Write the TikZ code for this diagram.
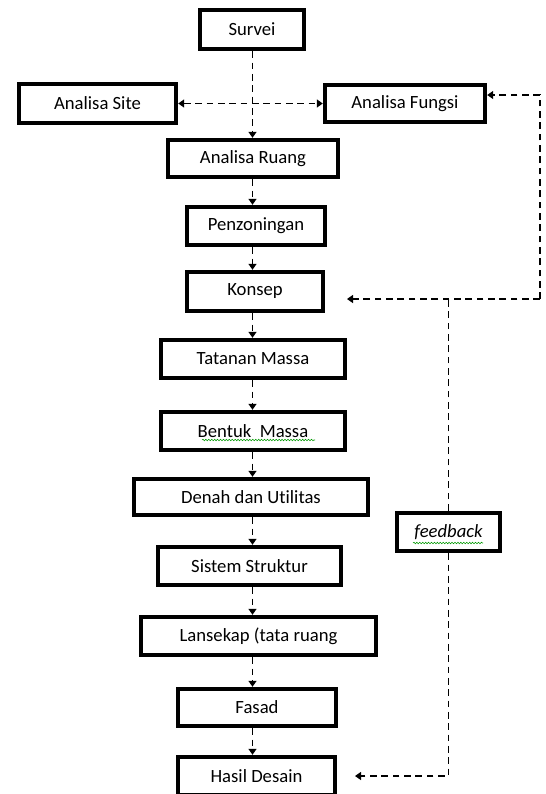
\documentclass[tikz,border=0pt]{standalone}
\usepackage{fontspec}
\setmainfont{Carlito}[Ligatures=NoCommon]
\usetikzlibrary{positioning, arrows.meta, decorations.pathmorphing}

\begin{document}
\begin{tikzpicture}[x=0.75pt, y=-0.75pt,
    box/.style={draw, rectangle, line width=2.8pt, inner sep=0pt, align=center, font=\fontsize{14}{16}\selectfont},
    flow/.style={line width=1pt, dash pattern=on 5pt off 3.5pt, -{Triangle[length=4.5pt, width=6pt]}},
    twoway/.style={line width=1pt, dash pattern=on 5pt off 3.5pt, {Triangle[length=4.5pt, width=6pt]}-{Triangle[length=4.5pt, width=6pt]}},
    plain/.style={line width=1pt, dash pattern=on 5pt off 3.5pt},
    spell/.style={green!60!black, line width=0.4pt, decorate, decoration={snake, amplitude=0.6pt, segment length=2.2pt}}]
    \useasboundingbox (0,0) rectangle (546,794);
    \clip (0,0) rectangle (546,794);

    % Analysis stage
    \node (survei) at (252, 29.5) [box, minimum width=78.5pt, minimum height=29.75pt] {Survei};
    \node (site) at (97.5, 103.5) [box, minimum width=118.25pt, minimum height=29.75pt] {Analisa Site};
    \node (fungsi) at (405, 103.5) [box, minimum width=120.5pt, minimum height=28.25pt] {Analisa Fungsi};
    \node (ruang) at (253, 158.5) [box, minimum width=128pt, minimum height=28.25pt] {Analisa Ruang};
    \node (penz) at (256, 226) [box, minimum width=104pt, minimum height=29pt] {Penzoningan};
    \node (konsep) at (255, 291.5) [box, minimum width=102.5pt, minimum height=29.75pt] {Konsep};

    % Design stage
    \node (tatanan) at (253, 359) [box, minimum width=138.5pt, minimum height=29pt] {Tatanan Massa};
    \node (bentuk) at (253, 431) [box, minimum width=138.5pt, minimum height=29pt] {Bentuk\ \ Massa};
    \node (denah) at (251, 497) [box, minimum width=176pt, minimum height=27.5pt] {Denah dan Utilitas};
    \node (sistem) at (249.5, 566) [box, minimum width=137.75pt, minimum height=29pt] {Sistem Struktur};
    \node (lansekap) at (258.5, 636) [box, minimum width=176.75pt, minimum height=29pt] {Lansekap (tata ruang};
    \node (fasad) at (257, 707.5) [box, minimum width=119pt, minimum height=28.25pt] {Fasad};
    \node (hasil) at (256.5, 776) [box, minimum width=118.25pt, minimum height=29pt] {Hasil Desain};

    % Feedback
    \node (fb) at (448.5, 532) [box, minimum width=77.75pt, minimum height=29pt] {\itshape feedback};

    % Main column
    \coordinate (spine) at (252.5, 0);
    \draw[flow] (survei.south -| spine) -- (ruang.north -| spine);
    \draw[twoway] (site) -- (fungsi);
    \draw[flow] (ruang.south -| spine) -- (penz.north -| spine);
    \draw[flow] (penz.south -| spine) -- (konsep.north -| spine);
    \draw[flow] (konsep.south -| spine) -- (tatanan.north -| spine);
    \draw[flow] (tatanan.south -| spine) -- (bentuk.north -| spine);
    \draw[flow] (bentuk.south -| spine) -- (denah.north -| spine);
    \draw[flow] (denah.south -| spine) -- (sistem.north -| spine);
    \draw[flow] (sistem.south -| spine) -- (lansekap.north -| spine);
    \draw[flow] (lansekap.south -| spine) -- (fasad.north -| spine);
    \draw[flow] (fasad.south -| spine) -- (hasil.north -| spine);

    % Feedback loop
    \coordinate (loopne) at (540, 95);
    \coordinate (loopse) at (540, 299);
    \coordinate (konsepin) at (347, 299);
    \coordinate (hasilin) at (355, 776);
    \draw[flow] (loopse) -- (loopne) -- (fungsi.east |- loopne);
    \draw[flow] (loopse) -- (konsepin);
    \draw[plain] (fb.north) -- (fb.north |- loopse);
    \draw[flow] (fb.south) |- (hasilin);

    % Spell-check marks
    \draw[spell] (bentuk.center) ++(-51, 9) -- ++(113, 0);
    \draw[spell] (fb.center) ++(-35.5, 11) -- ++(70, 0);
\end{tikzpicture}
\end{document}
